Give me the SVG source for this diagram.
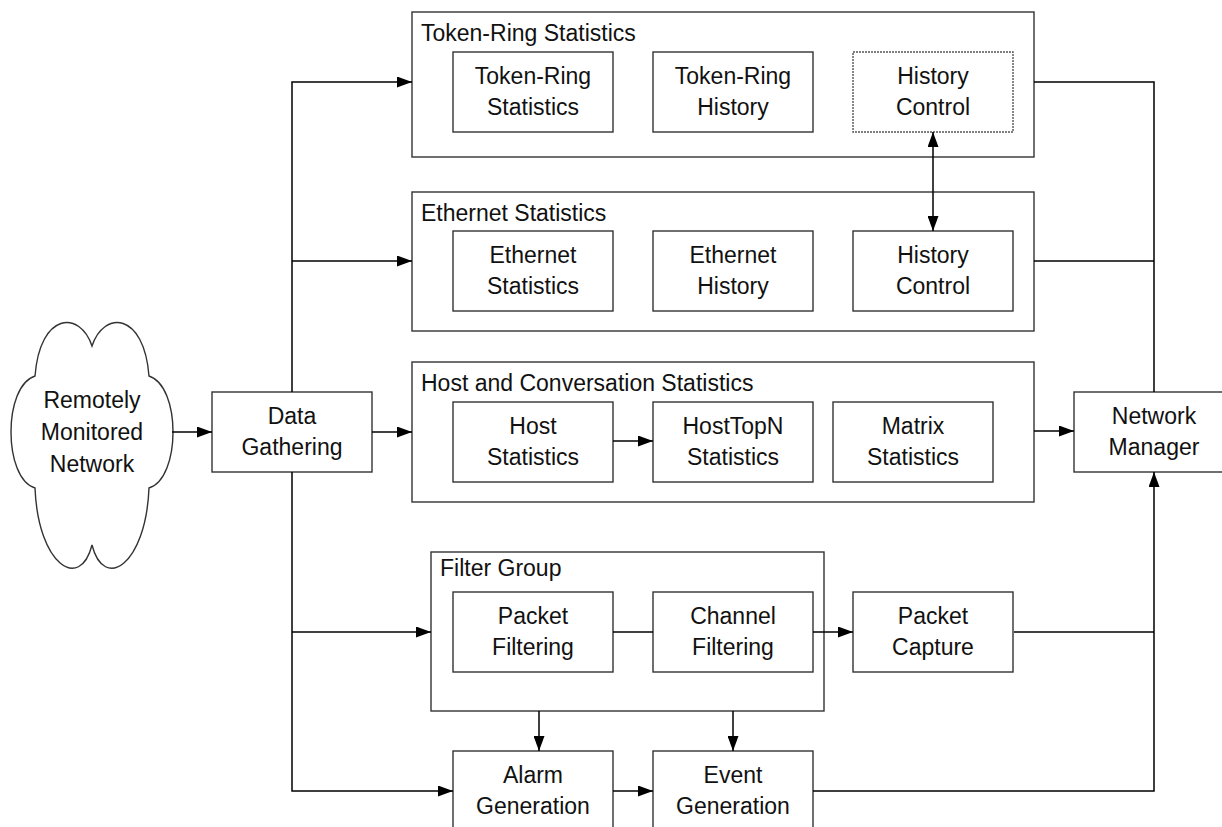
<svg xmlns="http://www.w3.org/2000/svg" width="1222" height="827" viewBox="0 0 1222 827">
  <defs>
    <style>
      .box { fill: #ffffff; stroke: #333333; stroke-width: 1.4; }
      .dotted { stroke: #555555; stroke-dasharray: 2 1; }
      .wire { fill: none; stroke: #000000; stroke-width: 1.5; }
      text { font-family: "Liberation Sans", Arial, sans-serif; font-size: 23px; fill: #111111; }
      .c { text-anchor: middle; }
    </style>
    <marker id="arrow" viewBox="0 0 15 11" refX="15" refY="5.5" markerWidth="15" markerHeight="11" markerUnits="userSpaceOnUse" orient="auto-start-reverse">
      <path d="M0,0 L15,5.5 L0,11 Z" fill="#000000"/>
    </marker>
  </defs>

  <rect width="1222" height="827" fill="#ffffff"/>

  <!-- remotely monitored network (cloud) -->
  <g id="network">
    <path class="box" d="M92,346 C80,310 40,312 35,376 C3,386 3,478 35,488 C38,565 80,592 92,545 C104,592 146,565 149,488 C181,478 181,386 149,376 C144,312 104,310 92,346 Z"/>
    <text class="c" x="92" y="408">Remotely</text>
    <text class="c" x="92" y="440">Monitored</text>
    <text class="c" x="92" y="472">Network</text>
  </g>

  <g id="data-gathering">
    <rect class="box" x="212" y="392" width="160" height="80"/>
    <text class="c" x="292" y="424">Data</text>
    <text class="c" x="292" y="455">Gathering</text>
  </g>

  <!-- Token-Ring statistics group -->
  <g id="token-ring-group">
    <rect class="box" x="412" y="12" width="622" height="145"/>
    <text x="421" y="41">Token-Ring Statistics</text>
  </g>
  <g id="tr-statistics">
    <rect class="box" x="453" y="52" width="160" height="80"/>
    <text class="c" x="533" y="84">Token-Ring</text>
    <text class="c" x="533" y="115">Statistics</text>
  </g>
  <g id="tr-history">
    <rect class="box" x="653" y="52" width="160" height="80"/>
    <text class="c" x="733" y="84">Token-Ring</text>
    <text class="c" x="733" y="115">History</text>
  </g>
  <g id="tr-history-control">
    <rect class="box dotted" x="853" y="52" width="160" height="80"/>
    <text class="c" x="933" y="84">History</text>
    <text class="c" x="933" y="115">Control</text>
  </g>

  <!-- Ethernet statistics group -->
  <g id="ethernet-group">
    <rect class="box" x="412" y="192" width="622" height="139"/>
    <text x="421" y="221">Ethernet Statistics</text>
  </g>
  <g id="eth-statistics">
    <rect class="box" x="453" y="231" width="160" height="80"/>
    <text class="c" x="533" y="263">Ethernet</text>
    <text class="c" x="533" y="294">Statistics</text>
  </g>
  <g id="eth-history">
    <rect class="box" x="653" y="231" width="160" height="80"/>
    <text class="c" x="733" y="263">Ethernet</text>
    <text class="c" x="733" y="294">History</text>
  </g>
  <g id="eth-history-control">
    <rect class="box" x="853" y="231" width="160" height="80"/>
    <text class="c" x="933" y="263">History</text>
    <text class="c" x="933" y="294">Control</text>
  </g>

  <!-- Host and conversation statistics group -->
  <g id="host-group">
    <rect class="box" x="412" y="362" width="622" height="140"/>
    <text x="421" y="391">Host and Conversation Statistics</text>
  </g>
  <g id="host-statistics">
    <rect class="box" x="453" y="402" width="160" height="80"/>
    <text class="c" x="533" y="434">Host</text>
    <text class="c" x="533" y="465">Statistics</text>
  </g>
  <g id="hosttopn-statistics">
    <rect class="box" x="653" y="402" width="160" height="80"/>
    <text class="c" x="733" y="434">HostTopN</text>
    <text class="c" x="733" y="465">Statistics</text>
  </g>
  <g id="matrix-statistics">
    <rect class="box" x="833" y="402" width="160" height="80"/>
    <text class="c" x="913" y="434">Matrix</text>
    <text class="c" x="913" y="465">Statistics</text>
  </g>

  <!-- Filter group -->
  <g id="filter-group">
    <rect class="box" x="431" y="552" width="393" height="159"/>
    <text x="440" y="576">Filter Group</text>
  </g>
  <g id="packet-filtering">
    <rect class="box" x="453" y="592" width="160" height="80"/>
    <text class="c" x="533" y="624">Packet</text>
    <text class="c" x="533" y="655">Filtering</text>
  </g>
  <g id="channel-filtering">
    <rect class="box" x="653" y="592" width="160" height="80"/>
    <text class="c" x="733" y="624">Channel</text>
    <text class="c" x="733" y="655">Filtering</text>
  </g>
  <g id="packet-capture">
    <rect class="box" x="853" y="592" width="160" height="80"/>
    <text class="c" x="933" y="624">Packet</text>
    <text class="c" x="933" y="655">Capture</text>
  </g>

  <g id="alarm-generation">
    <rect class="box" x="453" y="751" width="160" height="80"/>
    <text class="c" x="533" y="783">Alarm</text>
    <text class="c" x="533" y="814">Generation</text>
  </g>
  <g id="event-generation">
    <rect class="box" x="653" y="751" width="160" height="80"/>
    <text class="c" x="733" y="783">Event</text>
    <text class="c" x="733" y="814">Generation</text>
  </g>

  <g id="network-manager">
    <rect class="box" x="1074" y="392" width="160" height="80"/>
    <text class="c" x="1154" y="424">Network</text>
    <text class="c" x="1154" y="455">Manager</text>
  </g>

  <!-- connectors, drawn last so they sit over the group frames -->
  <g id="connectors">
    <line class="wire" x1="172" y1="432" x2="212" y2="432" marker-end="url(#arrow)"/>
    <line class="wire" x1="372" y1="432" x2="412" y2="432" marker-end="url(#arrow)"/>
    <!-- distribution trunk from Data Gathering -->
    <polyline class="wire" points="292,392 292,82 412,82" marker-end="url(#arrow)"/>
    <line class="wire" x1="292" y1="261" x2="412" y2="261" marker-end="url(#arrow)"/>
    <polyline class="wire" points="292,472 292,791 453,791" marker-end="url(#arrow)"/>
    <line class="wire" x1="292" y1="632" x2="431" y2="632" marker-end="url(#arrow)"/>
    <!-- inside groups -->
    <line class="wire" x1="933" y1="132" x2="933" y2="231" marker-start="url(#arrow)" marker-end="url(#arrow)"/>
    <line class="wire" x1="613" y1="441" x2="653" y2="441" marker-end="url(#arrow)"/>
    <line class="wire" x1="613" y1="632" x2="653" y2="632"/>
    <line class="wire" x1="813" y1="632" x2="853" y2="632" marker-end="url(#arrow)"/>
    <line class="wire" x1="539" y1="711" x2="539" y2="751" marker-end="url(#arrow)"/>
    <line class="wire" x1="733" y1="711" x2="733" y2="751" marker-end="url(#arrow)"/>
    <line class="wire" x1="613" y1="791" x2="653" y2="791" marker-end="url(#arrow)"/>
    <!-- collection bus into Network Manager -->
    <polyline class="wire" points="1034,82 1154,82 1154,392"/>
    <line class="wire" x1="1034" y1="261" x2="1154" y2="261"/>
    <line class="wire" x1="1034" y1="431" x2="1074" y2="431" marker-end="url(#arrow)"/>
    <line class="wire" x1="1014" y1="632" x2="1154" y2="632"/>
    <polyline class="wire" points="813,791 1154,791 1154,472" marker-end="url(#arrow)"/>
  </g>
</svg>
